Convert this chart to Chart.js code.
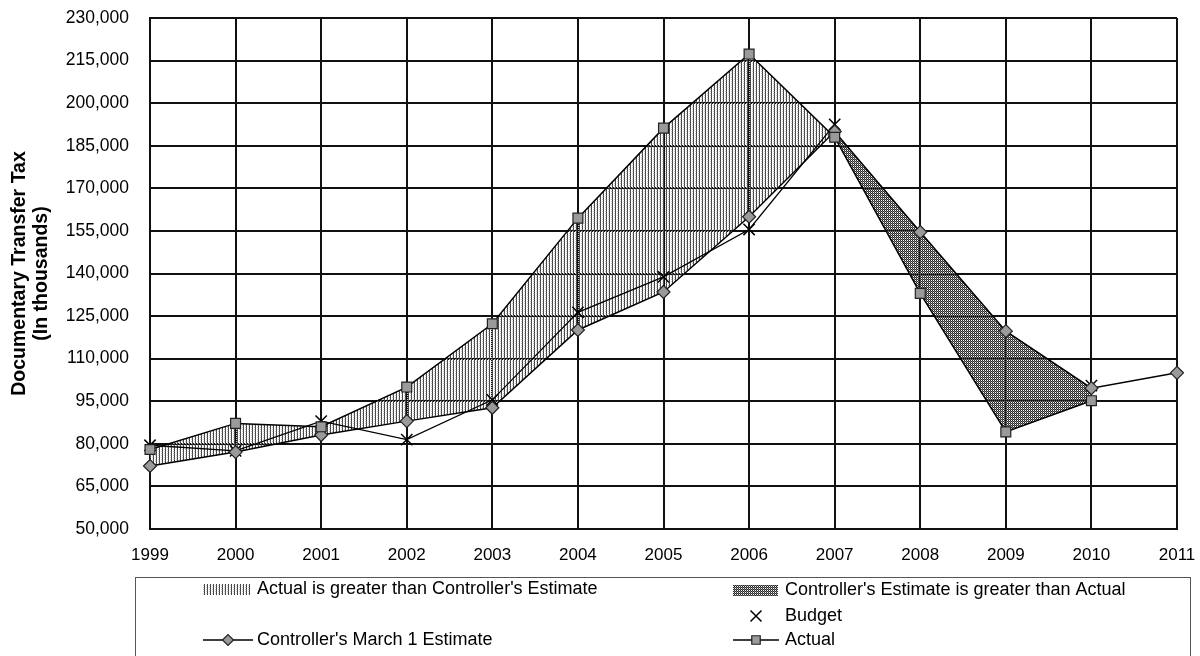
<!DOCTYPE html>
<html>
<head>
<meta charset="utf-8">
<script src="https://cdn.jsdelivr.net/npm/chart.js@4/dist/chart.umd.min.js"></script>
<style>
  html, body { margin: 0; padding: 0; background: #fff; }
  #wrap { width: 1200px; height: 656px; position: relative; }
</style>
</head>
<body>
<div id="wrap"><canvas id="c" width="1200" height="656"></canvas></div>
<script>
// Fiscal years on the horizontal axis
const years = ['1999', '2000', '2001', '2002', '2003', '2004', '2005', '2006', '2007', '2008', '2009', '2010', '2011'];

// Documentary transfer tax, in thousands of dollars
const actual   = [78000, 87200, 86000, 100000, 122300, 159500, 191200, 217300, 188000, 133000, 84200, 95200, null];
const estimate = [72200, 77100, 83100,  88000,  92700, 120100, 133500, 160000, 190000, 154600, 119700, 99600, 105000];
const budget   = [79500, 77500, 88000,  81500,  95500, 126300, 138800, 155500, 192500, null, null, 100500, null];

// Value axis range and step
const yMin = 50000;
const yMax = 230000;
const yStep = 15000;

const yTitle = ['Documentary Transfer Tax', '(In thousands)'];
const legendText = {
  actualAbove: "Actual is greater than Controller's Estimate",
  estimateAbove: "Controller's Estimate is greater than Actual",
  budget: 'Budget',
  estimate: "Controller's March 1 Estimate",
  actual: 'Actual'
};

const FONT = "'Liberation Sans', Arial, sans-serif";

// Hatch fills for the gap between the two lines
function makePattern(w, h, cells) {
  const cv = document.createElement('canvas');
  cv.width = w; cv.height = h;
  const g = cv.getContext('2d');
  cells.forEach(([x, y, c]) => { g.fillStyle = c; g.fillRect(x, y, 1, 1); });
  return g.createPattern(cv, 'repeat');
}
const lightHatch = makePattern(3, 2, [[0, 0, '#3c3c3c'], [0, 1, '#5a5a5a'], [2, 1, '#c4c4c4']]);
const darkHatch = makePattern(2, 2, [[0, 0, '#2a2a2a'], [1, 1, '#2a2a2a'], [0, 1, '#777777']]);

const markerFill = '#9a9a9a';
const markerEdge = '#222';

// Boxed two-column legend beneath the plot
const boxLegend = {
  id: 'boxLegend',
  afterDraw(chart) {
    const ctx = chart.ctx;
    ctx.save();
    ctx.strokeStyle = '#555';
    ctx.lineWidth = 1;
    ctx.strokeRect(135.5, 577.5, 1055, 100);

    ctx.font = '18px ' + FONT;
    ctx.textBaseline = 'middle';
    ctx.textAlign = 'left';

    // row 1: hatch swatches
    ctx.fillStyle = lightHatch;
    ctx.fillRect(203, 584, 47, 11);
    ctx.fillStyle = darkHatch;
    ctx.fillRect(733, 585, 45, 11);
    ctx.fillStyle = '#000';
    ctx.fillText(legendText.actualAbove, 257, 589);
    ctx.fillText(legendText.estimateAbove, 785, 590);

    // row 2: budget cross
    ctx.strokeStyle = '#000';
    ctx.lineWidth = 1.5;
    ctx.beginPath();
    ctx.moveTo(756 - 5.5, 616 - 5.5); ctx.lineTo(756 + 5.5, 616 + 5.5);
    ctx.moveTo(756 + 5.5, 616 - 5.5); ctx.lineTo(756 - 5.5, 616 + 5.5);
    ctx.stroke();
    ctx.fillText(legendText.budget, 785, 616);

    // row 3: line samples
    ctx.lineWidth = 1.5;
    ctx.beginPath();
    ctx.moveTo(203, 640); ctx.lineTo(253, 640);
    ctx.moveTo(733, 640); ctx.lineTo(779, 640);
    ctx.stroke();
    ctx.fillStyle = markerFill;
    ctx.strokeStyle = markerEdge;
    ctx.lineWidth = 1.2;
    Chart.helpers.drawPoint(ctx, { pointStyle: 'rectRot', radius: 5.5, borderWidth: 1.2, rotation: 0 }, 228, 640);
    Chart.helpers.drawPoint(ctx, { pointStyle: 'rect', radius: 6, borderWidth: 1.2, rotation: 0 }, 756, 640);
    ctx.fillStyle = '#000';
    ctx.fillText(legendText.estimate, 257, 640);
    ctx.fillText(legendText.actual, 785, 640);
    ctx.restore();
  }
};

new Chart(document.getElementById('c'), {
  type: 'line',
  data: {
    labels: years,
    datasets: [
      {
        label: legendText.actual,
        data: actual,
        borderColor: '#000',
        borderWidth: 1.5,
        pointStyle: 'rect',
        pointRadius: 7,
        pointBackgroundColor: markerFill,
        pointBorderColor: markerEdge,
        pointBorderWidth: 1.2,
        tension: 0,
        fill: { target: 1, above: lightHatch, below: darkHatch }
      },
      {
        label: legendText.estimate,
        data: estimate,
        borderColor: '#000',
        borderWidth: 1.5,
        pointStyle: 'rectRot',
        pointRadius: 6.5,
        pointBackgroundColor: markerFill,
        pointBorderColor: markerEdge,
        pointBorderWidth: 1.2,
        tension: 0,
        fill: false
      },
      {
        label: legendText.budget,
        data: budget,
        borderColor: '#000',
        borderWidth: 1.3,
        pointStyle: 'crossRot',
        pointRadius: 8,
        pointBorderColor: '#000',
        pointBorderWidth: 1.5,
        tension: 0,
        spanGaps: false,
        fill: false
      }
    ]
  },
  options: {
    responsive: false,
    animation: false,
    events: [],
    layout: { autoPadding: false, padding: { top: 18, right: 23, bottom: 0, left: 0 } },
    plugins: {
      legend: { display: false },
      tooltip: { enabled: false },
      filler: { drawTime: 'beforeDatasetsDraw' }
    },
    scales: {
      x: {
        offset: false,
        grid: { color: '#111', lineWidth: 2, drawTicks: false },
        border: { color: '#111', width: 2 },
        ticks: { color: '#000', font: { family: FONT, size: 17 }, padding: 16, maxRotation: 0, autoSkip: false },
        afterFit(scale) {
          scale.height = 127;
          scale.paddingLeft = 0; scale.paddingRight = 0;
        }
      },
      y: {
        min: yMin,
        max: yMax,
        grid: { color: '#111', lineWidth: 2, drawTicks: false },
        border: { color: '#111', width: 2 },
        ticks: {
          stepSize: yStep,
          color: '#000',
          padding: 21,
          font: { family: FONT, size: 17.5 },
          callback: v => v.toLocaleString('en-US')
        },
        title: {
          display: true,
          text: yTitle,
          color: '#000',
          font: { family: FONT, size: 19.5, weight: 'bold', lineHeight: 1.1 },
          padding: { top: 9, bottom: 0 }
        },
        afterFit(scale) {
          scale.width = 150;
          scale.paddingTop = 0; scale.paddingBottom = 0;
        }
      }
    }
  },
  plugins: [boxLegend]
});
</script>
</body>
</html>
